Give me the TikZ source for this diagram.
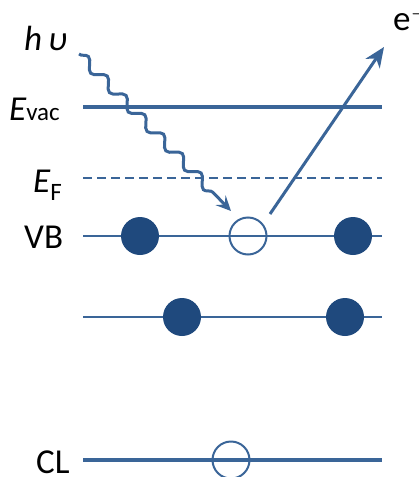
\documentclass[tikz,border=0pt]{standalone}
\usepackage{fontspec}
\setmainfont{Carlito}
\usetikzlibrary{arrows.meta,decorations.pathmorphing}
\definecolor{lineblue}{HTML}{3A6598}
\definecolor{dotblue}{HTML}{1F497D}
\tikzset{
  level/.style={draw=lineblue,line width=2pt},
  thicklevel/.style={draw=lineblue,line width=4pt},
  filled/.style={circle,fill=dotblue,minimum size=38pt,inner sep=0pt},
  hole/.style={circle,draw=lineblue,line width=2pt,minimum size=37pt,inner sep=0pt},
  lab/.style={font=\fontsize{35}{35}\selectfont,inner sep=0pt},
}
\begin{document}
\begin{tikzpicture}[x=1pt,y=-1pt]
\useasboundingbox (0,0) rectangle (419,477);
% levels
\coordinate (vacL) at (83,107); \coordinate (vacR) at (382,107);
\coordinate (fL) at (83,178); \coordinate (fR) at (382,178);
\coordinate (vbL) at (83,236); \coordinate (vbR) at (382,236);
\coordinate (l2L) at (83,317); \coordinate (l2R) at (382,317);
\coordinate (clL) at (83,460); \coordinate (clR) at (382,460);
\draw[thicklevel] (vacL) -- (vacR);
\draw[draw=lineblue,line width=2.6pt,dash pattern=on 9pt off 5pt] (fL) -- (fR);
\draw[level] (vbL) -- (vbR);
\draw[level] (l2L) -- (l2R);
\draw[draw=lineblue,line width=4.5pt] (clL) -- (clR);
% electrons and holes
\node[filled] (v1) at (140,236) {};
\node[hole] (vh) at (248,236) {};
\node[filled] (v2) at (353,236) {};
\node[filled] (m1) at (182,317) {};
\node[filled] (m2) at (345,317) {};
\node[hole] (ch) at (231,460) {};
% photon
\coordinate (ph0) at (79,54);
\coordinate (ph1) at (231,211);
\draw[draw=lineblue,line width=3pt,-{Stealth[length=15pt,width=14pt,inset=6pt]},
  decorate,decoration={snake,amplitude=5pt,segment length=27pt,post length=14pt}] (ph0) -- (ph1);
% photoelectron
\coordinate (eend) at (384,47);
\draw[draw=lineblue,line width=3pt,-{Stealth[length=20pt,width=17pt,inset=6pt]}] (270,214) -- (eend);
% labels
\node[lab,anchor=base west] (hv) at (24,50) {\itshape h\,υ};
\node[lab,anchor=base west] (evac) at (9,120) {\itshape E\upshape\fontsize{25}{25}\selectfont vac};
\node[lab,anchor=base east] (ef) at (62,192) {\itshape E\upshape\fontsize{25}{25}\selectfont\raisebox{-8pt}{F}};
\node[lab,anchor=base west] (vb) at (24,248) {VB};
\node[lab,anchor=base west] (cl) at (36,473) {CL};
\node[lab,anchor=base west] (el) at (393,30) {e$^{-}$};
\end{tikzpicture}
\end{document}
